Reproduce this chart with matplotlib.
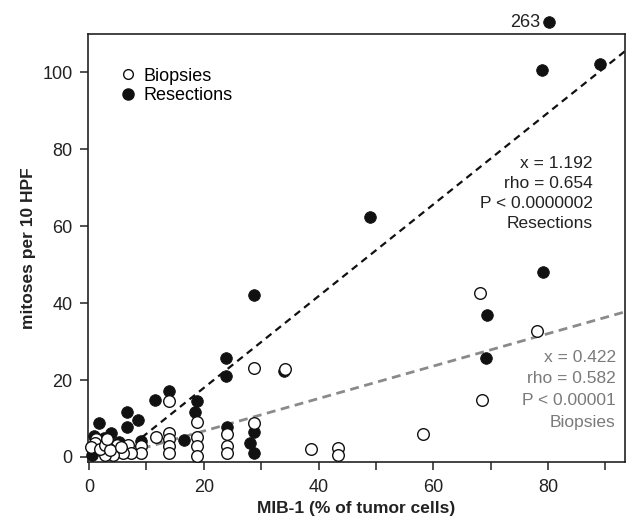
import matplotlib
matplotlib.use("Agg")
import matplotlib.pyplot as plt
import numpy as np
from matplotlib.lines import Line2D

plt.rcParams['font.family'] = ['Liberation Sans', 'DejaVu Sans']

# ---- data ----
bio_x = [68.1, 78.0, 68.4, 58.2, 38.7, 43.4, 43.4, 34.1, 28.8, 28.8, 24.0, 24.0, 24.0,
         18.8, 18.8, 18.8, 18.8, 14.0, 14.0, 14.0, 14.0, 14.0, 11.6, 9.1, 9.1, 6.8, 7.4,
         5.9, 4.8, 3.5, 4.2, 2.8, 1.2, 1.0, 0.3, 1.9, 2.8, 3.7, 5.5, 3.2]
bio_y = [42.6, 32.7, 14.8, 6.0, 2.1, 2.3, 0.5, 22.9, 23.0, 8.9, 6.1, 2.9, 1.0,
         9.2, 5.1, 2.9, 0.3, 14.6, 6.3, 4.6, 2.9, 1.1, 5.1, 2.9, 1.0, 3.1, 1.0,
         1.0, 3.1, 2.2, 0.5, 0.5, 4.8, 3.6, 2.7, 2.2, 3.1, 1.8, 2.5, 4.6]

res_x = [80.1, 78.9, 89.0, 49.0, 79.1, 69.3, 69.2, 33.9, 28.8, 23.8, 23.8, 11.5, 14.0,
         18.8, 18.5, 16.6, 24.0, 28.8, 28.0, 28.8, 6.6, 8.6, 6.6, 1.7, 3.9, 0.9, 2.6,
         5.3, 9.0, 0.5]
res_y = [263, 100.5, 102.0, 62.3, 48.0, 36.9, 25.7, 22.4, 42.0, 25.6, 21.1, 14.8, 17.1,
         14.6, 11.8, 4.5, 7.9, 6.6, 3.7, 1.0, 11.6, 9.5, 7.7, 8.9, 6.2, 5.4, 5.0,
         4.0, 4.2, 0.6]

res_slope, res_icpt = 1.192, -5.9
bio_slope, bio_icpt = 0.422, -1.7
fit_x = [9.2, 95.0]

res_stats = ["x = 1.192", "rho = 0.654", "P < 0.0000002", "Resections"]
bio_stats = ["x = 0.422", "rho = 0.582", "P < 0.00001", "Biopsies"]

xticks = [0, 20, 40, 60, 80]
yticks = [0, 20, 40, 60, 80, 100]
y_cap = 113  # where off-scale values are drawn

# ---- figure ----
fig = plt.figure(figsize=(6.28, 5.20), dpi=100)
ax = fig.add_axes([88/628, 1-462/520, 537/628, 428/520])
ax.set_xlim(-0.17, 93.4)
ax.set_ylim(-1.3, 109.9)

fx = np.array(fit_x)
ax.plot(fx, res_slope*fx + res_icpt, color='#111111', lw=1.6,
        ls=(0, (3.2, 2.3)), zorder=2)
ax.plot(fx, bio_slope*fx + bio_icpt, color='#8a8a8a', lw=2.0,
        ls=(0, (3.2, 2.0)), zorder=2)

ry = np.array(res_y, dtype=float)
ry_plot = np.minimum(ry, y_cap)
ax.scatter(res_x, ry_plot, s=70, c='#111111', edgecolors='#111111',
           linewidths=0.6, zorder=3, clip_on=False)
ax.scatter(bio_x, bio_y, s=70, c='white', edgecolors='#111111',
           linewidths=1.0, zorder=4, clip_on=False)
for xv, yv in zip(res_x, ry):
    if yv > y_cap:
        ax.text(xv - 1.4, y_cap, f"{int(yv)}", ha='right', va='center',
                fontsize=13, color='#222222', clip_on=False)

for i, s in enumerate(res_stats):
    ax.text(0.94, 0.697 - i*0.0467, s, transform=ax.transAxes, ha='right',
            va='center', fontsize=12.5, color='#222222')
for i, s in enumerate(bio_stats):
    ax.text(0.983, 0.245 - i*0.0506, s, transform=ax.transAxes, ha='right',
            va='center', fontsize=12.5, color='#7a7a7a')

handles = [Line2D([], [], ls='none', marker='o', ms=7, mfc='white', mec='#111111', mew=1.0),
           Line2D([], [], ls='none', marker='o', ms=8, mfc='#111111', mec='#111111')]
ax.legend(handles, ['Biopsies', 'Resections'], loc='upper left',
          bbox_to_anchor=(0.035, 0.955), frameon=False, fontsize=13,
          handlelength=0.8, handletextpad=0.45, labelspacing=0.15, borderpad=0.3)

ax.set_xticks(xticks)
ax.set_xticks(np.arange(10, 91, 20), minor=True)
ax.set_yticks(yticks)
ax.tick_params(which='both', direction='out', length=6, width=1.1, color='#222222',
               labelsize=13, labelcolor='#222222')
ax.tick_params(axis='x', pad=6)
ax.tick_params(axis='y', pad=5)
for sp in ax.spines.values():
    sp.set_linewidth(1.2)
    sp.set_color('#222222')

ax.set_xlabel('MIB-1 (% of tumor cells)', fontsize=12.5, fontweight='bold',
              color='#222222', labelpad=4)
ax.set_ylabel('mitoses per 10 HPF', fontsize=12.5, fontweight='bold',
              color='#222222', labelpad=5)

fig.savefig('out.png', dpi=100)
